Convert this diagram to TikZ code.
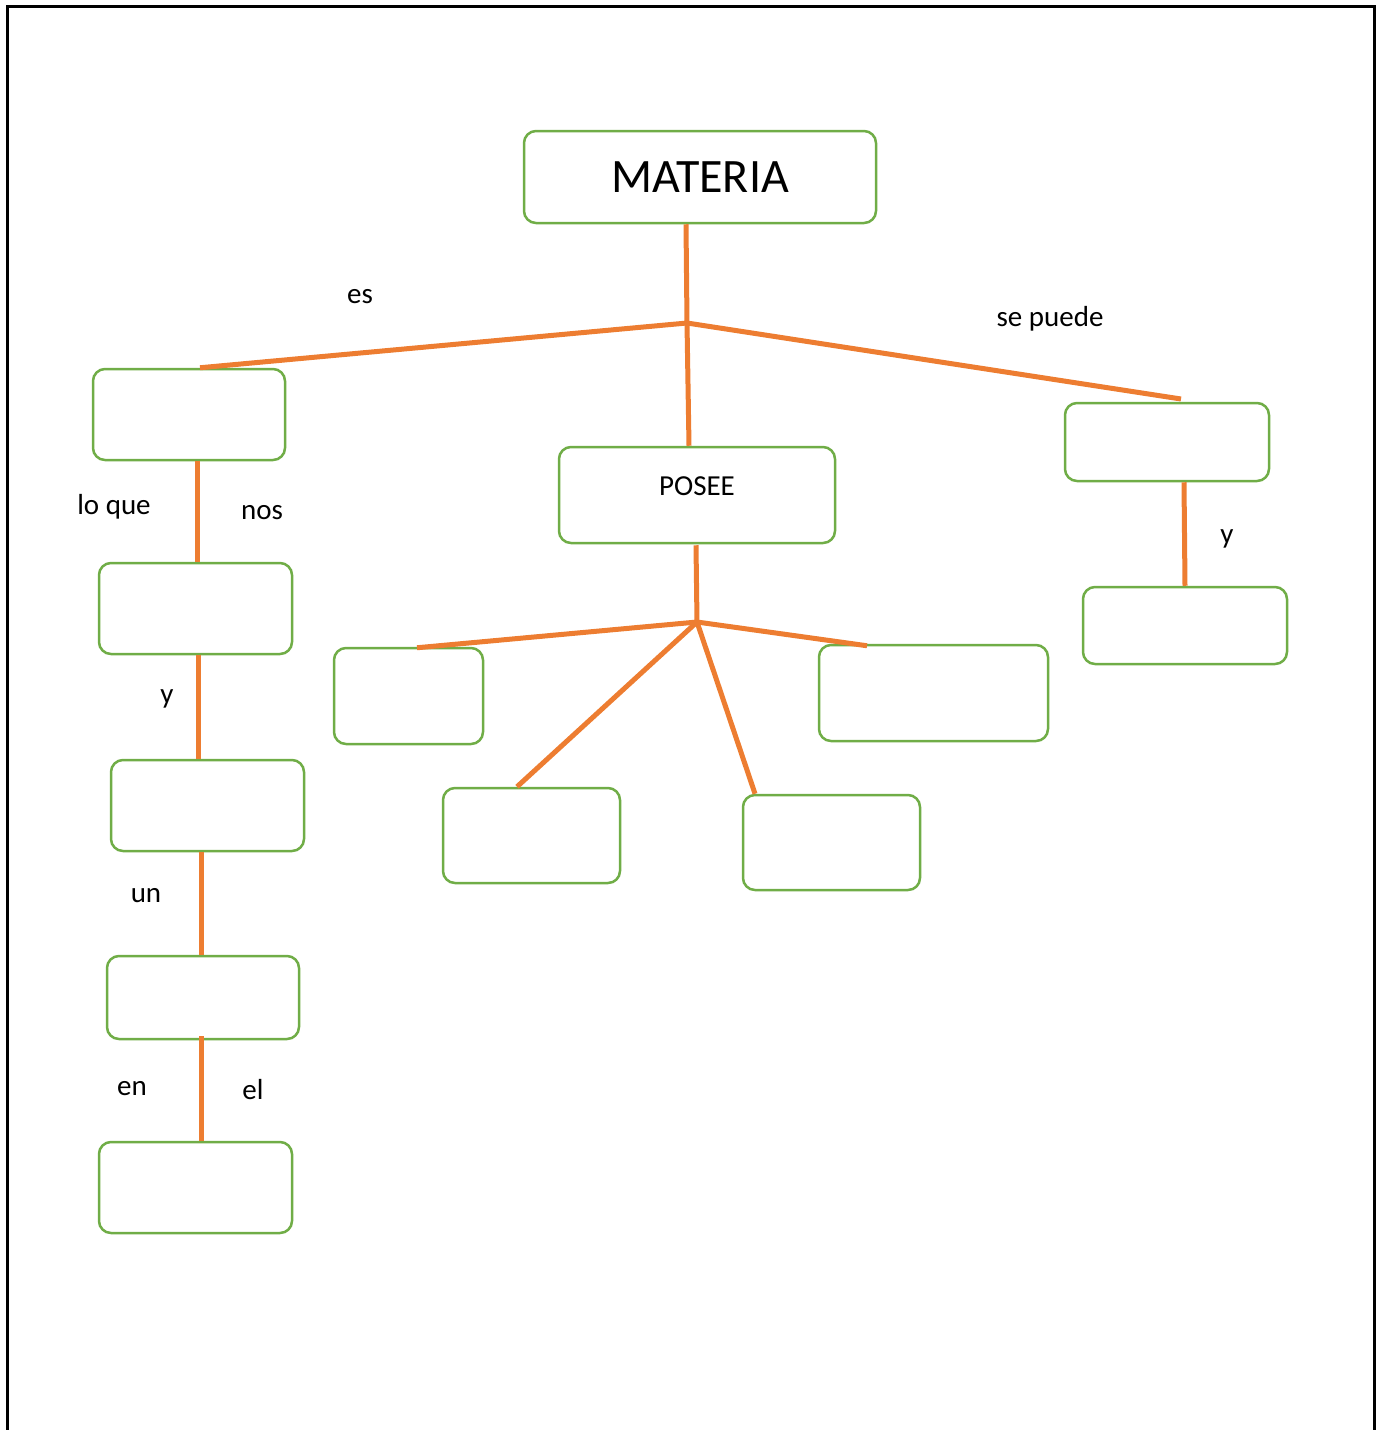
\documentclass[tikz,border=0pt]{standalone}
\usepackage{fontspec}
\setmainfont{Carlito}
\usetikzlibrary{calc}
\definecolor{linkorange}{HTML}{ED7D31}
\definecolor{boxgreen}{HTML}{70AD47}
\begin{document}
\begin{tikzpicture}[x=1pt,y=-1pt,
  box/.style={draw=boxgreen, line width=2.5pt, rounded corners=12pt, inner sep=0pt},
  link/.style={draw=linkorange, line width=5pt},
  lbl/.style={font=\fontsize{29}{34}\selectfont, inner sep=0pt}]
\useasboundingbox (0,0) rectangle (1385,1430);
% page frame (open at the bottom)
\draw[line width=3pt, line cap=rect] (7,1432) -- (7,6) -- (1374,6) -- (1374,1432);

% main concept
\node[box, minimum width=352pt, minimum height=92pt] (materia) at (700,177)
  {\fontsize{48}{57}\selectfont MATERIA};
\node[box, minimum width=276pt, minimum height=96pt] (posee) at (697,495) {};
\node[lbl] (poseetxt) at (697,486) {POSEE};

% left column
\node[box, minimum width=192pt, minimum height=91pt] (b1) at (189,414.5) {};
\node[box, minimum width=193pt, minimum height=91pt] (b2) at (195.5,608.5) {};
\node[box, minimum width=193pt, minimum height=91pt] (b3) at (207.5,805.5) {};
\node[box, minimum width=192pt, minimum height=83pt] (b4) at (203,997.5) {};
\node[box, minimum width=193pt, minimum height=91pt] (b5) at (195.5,1187.5) {};

% right column
\node[box, minimum width=204pt, minimum height=78pt] (r1) at (1167,442) {};
\node[box, minimum width=204pt, minimum height=77pt] (r2) at (1185,625.5) {};

% children of POSEE
\node[box, minimum width=149pt, minimum height=96pt] (c1) at (408.5,696) {};
\node[box, minimum width=177pt, minimum height=95pt] (c2) at (531.5,835.5) {};
\node[box, minimum width=177pt, minimum height=95pt] (c3) at (831.5,842.5) {};
\node[box, minimum width=229pt, minimum height=96pt] (c4) at (933.5,693) {};

% branching points
\coordinate (hub) at (687,323);
\coordinate (hubp) at (697,622);
\coordinate (rend) at (1181,399);

% connectors
\draw[link] ([xshift=-14pt]materia.south) -- (hub);
\draw[link] (hub) -- ([xshift=-8pt]posee.north);
\draw[link] (hub) -- ([xshift=11pt]b1.north);
\draw[link] (hub) -- (rend);
\draw[link] ([xshift=8pt]b1.south) -- ([xshift=1.5pt]b2.north);
\draw[link] ([xshift=2.5pt]b2.south) -- ([xshift=-9.5pt]b3.north);
\draw[link] ([xshift=-6.5pt]b3.south) -- ([xshift=-2pt]b4.north);
\draw[link] ([xshift=-2pt,yshift=4pt]b4.south) -- ([xshift=5.5pt]b5.north);
\draw[link] ([xshift=17pt]r1.south) -- ([xshift=0pt]r2.north);
\draw[link] ([xshift=-1pt,yshift=-1pt]posee.south) -- (hubp);
\draw[link] (hubp) -- ([xshift=8.5pt,yshift=-1pt]c1.north);
\draw[link] (hubp) -- ([xshift=-14.5pt]c2.north);
\draw[link] (hubp) -- ([xshift=-76.5pt]c3.north);
\draw[link] (hubp) -- ([xshift=-66.5pt,yshift=-2pt]c4.north);

% link words
\node[lbl] (les) at (360,297) {es};
\node[lbl] (lsepuede) at (1050,319) {se puede};
\node[lbl] (lloque) at (114,507) {lo que};
\node[lbl] (lnos) at (262,513) {nos};
\node[lbl] (ly) at (167,699) {y};
\node[lbl] (lun) at (146,896) {un};
\node[lbl] (len) at (132,1089) {en};
\node[lbl] (lel) at (253,1090) {el};
\node[lbl] (lyr) at (1227,539) {y};
\end{tikzpicture}
\end{document}
